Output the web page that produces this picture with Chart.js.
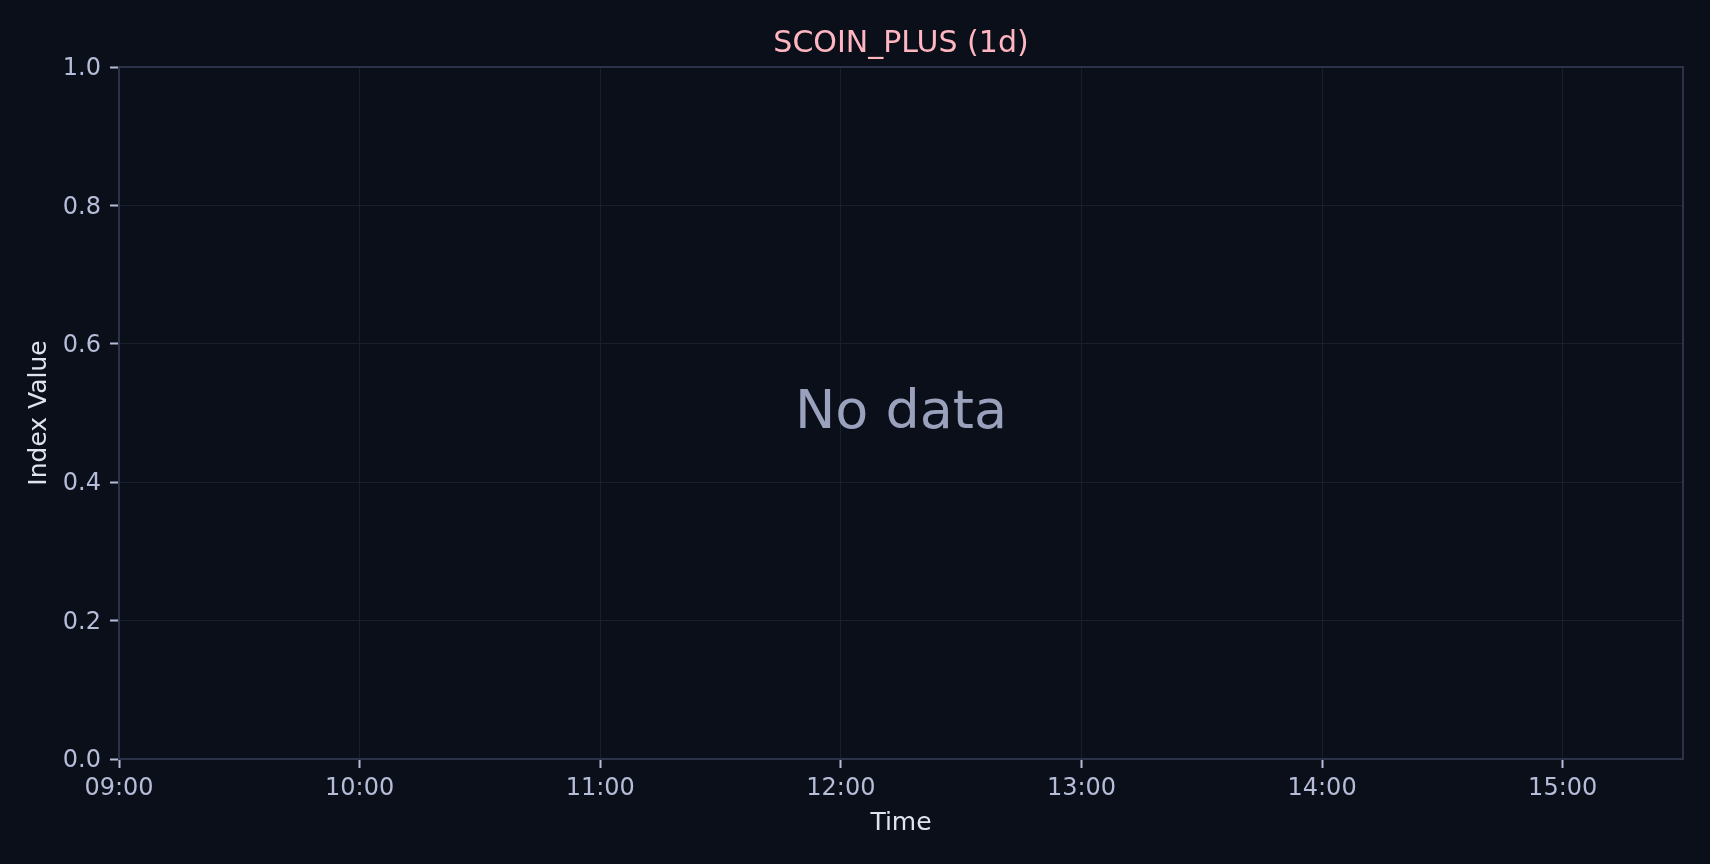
<!DOCTYPE html>
<html>
<head>
<meta charset="utf-8">
<title>SCOIN_PLUS (1d)</title>
<script src="https://cdn.jsdelivr.net/npm/chart.js@4.4.1/dist/chart.umd.min.js"></script>
<style>
  html, body { margin: 0; padding: 0; background: #0b0f19; overflow: hidden; }
  canvas { display: block; }
</style>
</head>
<body>
<canvas id="c" width="1710" height="864"></canvas>
<script>
// ---- data (the source chart has no observations) ----
const times = [];            // x values (hours) — none
const indexValues = [];      // series values — none
const xTickHours = [9, 10, 11, 12, 13, 14, 15];
const xTickLabels = ['09:00', '10:00', '11:00', '12:00', '13:00', '14:00', '15:00'];
const xRange = [9, 15.5];
const yTickValues = [0, 0.2, 0.4, 0.6, 0.8, 1.0];
const yTickLabels = ['0.0', '0.2', '0.4', '0.6', '0.8', '1.0'];
const yRange = [0, 1];
const chartTitle = 'SCOIN_PLUS (1d)';
const emptyMessage = 'No data';

const FONT = "'DejaVu Sans', 'Liberation Sans', sans-serif";
const BG = '#0b0f19';
const SPINE = '#2c3349';
const GRID = '#1a1f2e';
const TICK = '#b6bdd9';
const LABEL = '#dfe3f0';
const TITLE = '#ffb6c1';

const points = times.map((t, i) => ({ x: t, y: indexValues[i] }));

const framePlugin = {
  id: 'frame',
  beforeDraw(chart) {
    const ctx = chart.ctx;
    ctx.save();
    ctx.fillStyle = BG;
    ctx.fillRect(0, 0, chart.width, chart.height);
    ctx.restore();
  },
  afterDraw(chart) {
    const { ctx, chartArea: a } = chart;
    const cx = (a.left + a.right) / 2;
    ctx.save();
    ctx.strokeStyle = SPINE;
    ctx.lineWidth = 2;
    ctx.strokeRect(a.left, a.top, a.right - a.left, a.bottom - a.top);
    // title centred over the plot area
    ctx.font = '30px ' + FONT;
    ctx.fillStyle = TITLE;
    ctx.textAlign = 'center';
    ctx.textBaseline = 'middle';
    ctx.fillText(chartTitle, cx, a.top - 23);
    if (indexValues.length === 0) {
      const size = 54;
      ctx.font = size + 'px ' + FONT;
      ctx.fillStyle = '#9aa1bd';
      ctx.fillText(emptyMessage, cx, (a.top + a.bottom) / 2 + 1);
    }
    ctx.restore();
  }
};

new Chart(document.getElementById('c'), {
  type: 'line',
  data: {
    datasets: [{
      label: chartTitle,
      data: points,
      borderColor: TITLE,
      pointRadius: 0
    }]
  },
  options: {
    responsive: false,
    animation: false,
    layout: { padding: { left: 0, right: 27, top: 67, bottom: 0 } },
    plugins: {
      legend: { display: false },
      tooltip: { enabled: false },
      title: { display: false }
    },
    scales: {
      x: {
        type: 'linear',
        min: xRange[0],
        max: xRange[1],
        afterFit(scale) { scale.height = 105; },
        afterBuildTicks(scale) { scale.ticks = xTickHours.map(v => ({ value: v })); },
        ticks: {
          includeBounds: false,
          color: TICK,
          padding: 6,
          maxRotation: 0,
          autoSkip: false,
          font: { family: FONT, size: 24 },
          callback: (v) => { const i = xTickHours.indexOf(v); return i >= 0 ? xTickLabels[i] : ''; }
        },
        grid: {
          color: GRID,
          lineWidth: 1,
          drawTicks: true,
          tickLength: 9,
          tickColor: TICK,
          tickWidth: 2
        },
        border: { display: true, color: SPINE, width: 2 },
        title: {
          display: true,
          text: 'Time',
          color: LABEL,
          font: { family: FONT, size: 25, lineHeight: 1.2 },
          padding: { top: 0, bottom: 26 }
        }
      },
      y: {
        type: 'linear',
        min: yRange[0],
        max: yRange[1],
        afterFit(scale) { scale.width = 119; },
        afterBuildTicks(scale) { scale.ticks = yTickValues.map(v => ({ value: v })); },
        ticks: {
          color: TICK,
          padding: 9,
          labelOffset: 2,
          autoSkip: false,
          font: { family: FONT, size: 24 },
          callback: (v) => { const i = yTickValues.findIndex(t => Math.abs(t - v) < 1e-9); return i >= 0 ? yTickLabels[i] : ''; }
        },
        grid: {
          color: GRID,
          lineWidth: 1,
          drawTicks: true,
          tickLength: 9,
          tickColor: TICK,
          tickWidth: 2
        },
        border: { display: true, color: SPINE, width: 2 },
        title: {
          display: true,
          text: 'Index Value',
          color: LABEL,
          font: { family: FONT, size: 25, lineHeight: 1.2 },
          padding: { top: 24, bottom: 0 }
        }
      }
    }
  },
  plugins: [framePlugin]
});
</script>
</body>
</html>
